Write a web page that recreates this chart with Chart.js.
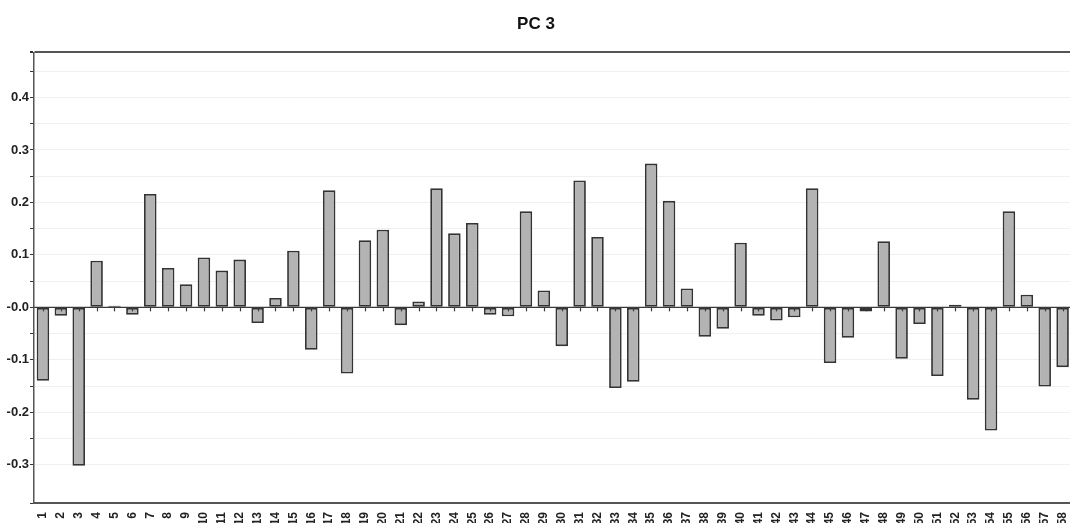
<!DOCTYPE html>
<html>
<head>
<meta charset="utf-8">
<script src="https://cdn.jsdelivr.net/npm/chart.js@4.4.0/dist/chart.umd.min.js"></script>
<style>
  html, body { margin: 0; padding: 0; background: #fff; overflow: hidden; }
  #grafica { position: absolute; left: -6px; top: 0; }
</style>
</head>
<body>
<canvas id="grafica" width="1084" height="523"></canvas>
<script>
var categorias = ['1','2','3','4','5','6','7','8','9','10','11','12','13','14','15','16','17','18','19','20',
  '21','22','23','24','25','26','27','28','29','30','31','32','33','34','35','36','37','38','39','40',
  '41','42','43','44','45','46','47','48','49','50','51','52','53','54','55','56','57','58'];

var valoresPC3 = [-0.140, -0.016, -0.302, 0.089, 0.003, -0.014, 0.216, 0.075, 0.044, 0.095,
  0.070, 0.091, -0.030, 0.018, 0.108, -0.081, 0.223, -0.126, 0.128, 0.148,
  -0.034, 0.011, 0.227, 0.141, 0.161, -0.014, -0.017, 0.183, 0.032, -0.074,
  0.242, 0.134, -0.154, -0.142, 0.274, 0.203, 0.036, -0.056, -0.041, 0.123,
  -0.016, -0.025, -0.019, 0.227, -0.106, -0.058, -0.008, 0.126, -0.098, -0.032,
  -0.131, 0.005, -0.176, -0.235, 0.183, 0.024, -0.151, -0.114];

var etiquetasY = ['-0.3', '-0.2', '-0.1', '-0.0', '0.1', '0.2', '0.3', '0.4'];
var valoresEtiquetasY = [-0.3, -0.2, -0.1, 0, 0.1, 0.2, 0.3, 0.4];

var yMin = -0.373;
var yMax = 0.486;

// Marcas pequeñas sobre la línea del cero
var marcasCero = {
  id: 'marcasCero',
  afterDatasetsDraw: function(chart) {
    var ctx = chart.ctx;
    var x = chart.scales.x;
    var y0 = chart.scales.y.getPixelForValue(0);
    ctx.save();
    ctx.strokeStyle = '#3a3a3a';
    ctx.lineWidth = 1.2;
    ctx.beginPath();
    ctx.moveTo(chart.chartArea.left, y0);
    ctx.lineTo(chart.chartArea.right, y0);
    ctx.stroke();
    for (var i = 0; i < categorias.length; i++) {
      var px = Math.round(x.getPixelForValue(i)) + 0.5;
      ctx.beginPath();
      ctx.moveTo(px, y0);
      ctx.lineTo(px, y0 + 4);
      ctx.stroke();
    }
    ctx.restore();
  }
};

var ctx = document.getElementById('grafica').getContext('2d');
new Chart(ctx, {
  type: 'bar',
  data: {
    labels: categorias,
    datasets: [{
      label: 'PC 3',
      data: valoresPC3,
      backgroundColor: '#b3b3b3',
      borderColor: '#333333',
      borderWidth: 1.8,
      borderSkipped: false,
      barPercentage: 0.7,
      categoryPercentage: 1.0
    }]
  },
  options: {
    responsive: false,
    animation: false,
    layout: { padding: { top: 0, right: 0, bottom: 0, left: 0 } },
    plugins: {
      legend: { display: false },
      tooltip: { enabled: false },
      title: {
        display: true,
        text: 'PC 3',
        color: '#111',
        font: { family: 'Liberation Sans', size: 17, weight: 'bold' },
        padding: { top: 14, bottom: 18 }
      }
    },
    scales: {
      x: {
        grid: { display: false },
        border: { display: true, color: '#555', width: 2 },
        ticks: {
          autoSkip: false,
          minRotation: 90,
          maxRotation: 90,
          padding: 1,
          color: '#222',
          font: { family: 'Liberation Sans', size: 12, weight: 'bold' }
        },
        afterFit: function(scale) { scale.height = 20; }
      },
      y: {
        min: yMin,
        max: yMax,
        border: { display: true, color: '#555', width: 1.5 },
        grid: {
          color: function(c) {
            if (c.tick && Math.abs(c.tick.value - yMax) < 1e-6) return '#555';
            return '#f0f0f0';
          },
          lineWidth: function(c) {
            if (c.tick && Math.abs(c.tick.value - yMax) < 1e-6) return 2;
            return 1;
          },
          tickColor: '#333',
          tickLength: 4
        },
        ticks: {
          stepSize: 0.05,
          padding: 1,
          color: '#222',
          font: { family: 'Liberation Sans', size: 13, weight: 'bold' },
          callback: function(value) {
            for (var i = 0; i < valoresEtiquetasY.length; i++) {
              if (Math.abs(value - valoresEtiquetasY[i]) < 1e-6) return etiquetasY[i];
            }
            return '';
          }
        },
        afterFit: function(scale) { scale.width = 40; }
      }
    }
  },
  plugins: [marcasCero]
});
</script>
</body>
</html>
